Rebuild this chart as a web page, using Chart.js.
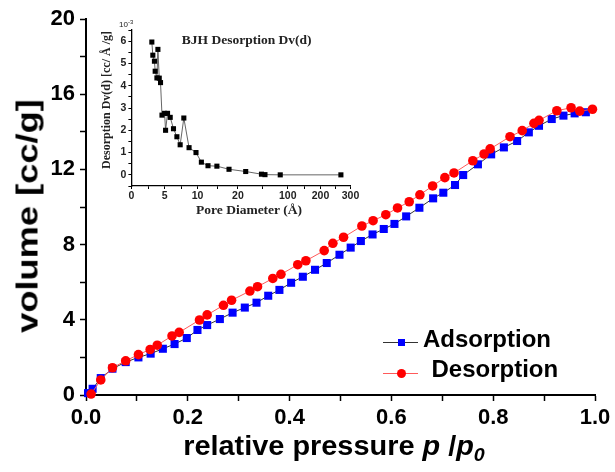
<!DOCTYPE html>
<html>
<head>
<meta charset="utf-8">
<script src="https://cdn.jsdelivr.net/npm/chart.js@4/dist/chart.umd.min.js"></script>
<style>
  html, body { margin: 0; padding: 0; background: #fff; }
  #wrap { position: relative; width: 615px; height: 472px; overflow: hidden; }
  canvas { position: absolute; }
  .txt { position: absolute; white-space: nowrap; line-height: 1; color: #000; }
  .sans { font-family: "Liberation Sans", Arial, sans-serif; font-weight: bold; }
  .serif { font-family: "Liberation Serif", "Times New Roman", serif; font-weight: bold; color: #222; }
</style>
</head>
<body>
<div id="wrap">
  <canvas id="main" width="615" height="472" style="left:0;top:0;width:615px;height:472px"></canvas>
  <canvas id="inset" width="275" height="215" style="left:90px;top:12px;width:275px;height:215px"></canvas>

  <div class="txt sans" style="left:28px;top:216px;font-size:29px;transform:translate(-50%,-50%) rotate(-90deg) scaleX(1.25);">volume [cc/g]</div>
  <div class="txt sans" style="left:333.5px;top:433px;font-size:27px;transform:translateX(-50%) scaleX(1.07);">relative pressure <i>p</i> /<i>p</i><span style="font-size:0.68em;position:relative;top:0.32em;font-style:italic">0</span></div>

  <div style="position:absolute;left:383px;top:342px;width:35px;height:1.2px;background:#333"></div>
  <div style="position:absolute;left:397.5px;top:339px;width:7px;height:7px;background:#0000ff"></div>
  <div class="txt sans" style="left:423px;top:326.5px;font-size:24px;">Adsorption</div>
  <div style="position:absolute;left:383px;top:372.7px;width:35px;height:1.2px;background:#ff5a5a"></div>
  <div style="position:absolute;left:396.5px;top:368.8px;width:9px;height:9px;border-radius:50%;background:#ff0000"></div>
  <div class="txt sans" style="left:431.5px;top:356.5px;font-size:24px;">Desorption</div>

  <div class="txt serif" style="left:246.7px;top:33.4px;font-size:13.5px;transform:translateX(-50%);">BJH Desorption Dv(d)</div>
  <div class="txt serif" style="left:106px;top:100px;font-size:12px;transform:translate(-50%,-50%) rotate(-90deg);">Desorption Dv(d) [cc/ Å /g]</div>
  <div class="txt serif" style="left:249px;top:203px;font-size:13.5px;transform:translateX(-50%);">Pore Diameter (Å)</div>
  <div class="txt" style="left:119px;top:21px;font-family:'Liberation Sans',Arial,sans-serif;font-size:8px;color:#222">10<span style="font-size:6px;position:relative;top:-3px">-3</span></div>
</div>

<script>
// ---------------- main isotherm data ----------------
const adsorptionP = [0.004, 0.013, 0.029, 0.052, 0.078, 0.103, 0.127, 0.151, 0.174, 0.198, 0.219, 0.238,
  0.263, 0.288, 0.312, 0.335, 0.358, 0.380, 0.403, 0.426, 0.450, 0.473, 0.498, 0.520, 0.540, 0.563,
  0.585, 0.606, 0.629, 0.655, 0.682, 0.702, 0.725, 0.741, 0.770, 0.796, 0.821, 0.847, 0.870, 0.890,
  0.915, 0.938, 0.960, 0.982];
const adsorptionV = [0.10, 0.33, 0.90, 1.40, 1.75, 2.00, 2.20, 2.46, 2.71, 3.03, 3.46, 3.72,
  4.04, 4.38, 4.65, 4.91, 5.28, 5.59, 5.97, 6.29, 6.66, 7.02, 7.46, 7.84, 8.19, 8.54,
  8.83, 9.10, 9.50, 9.96, 10.46, 10.76, 11.17, 11.70, 12.27, 12.80, 13.17, 13.51, 13.97, 14.32,
  14.68, 14.86, 14.98, 15.04];

const desorptionP = [0.010, 0.029, 0.052, 0.078, 0.103, 0.126, 0.140, 0.169, 0.183, 0.223, 0.238,
  0.270, 0.286, 0.322, 0.337, 0.367, 0.383, 0.416, 0.432, 0.468, 0.485, 0.506, 0.542, 0.564,
  0.589, 0.612, 0.635, 0.656, 0.681, 0.705, 0.723, 0.760, 0.782, 0.794, 0.833, 0.857, 0.880,
  0.890, 0.925, 0.953, 0.970, 0.995];
const desorptionV = [0.05, 0.80, 1.45, 1.82, 2.15, 2.42, 2.65, 3.14, 3.33, 3.99, 4.26,
  4.77, 5.04, 5.53, 5.76, 6.20, 6.42, 6.93, 7.14, 7.68, 8.07, 8.39, 8.99, 9.27,
  9.59, 9.95, 10.28, 10.65, 11.12, 11.56, 11.81, 12.46, 12.82, 13.09, 13.74, 14.06, 14.45,
  14.61, 15.12, 15.28, 15.10, 15.20];

// ---------------- inset BJH data (Dv(d) in 1e-3 cc/Å/g) ----------------
const poreDiameter = [3.06, 3.21, 3.45, 3.56, 3.82, 3.97, 4.17, 4.36, 4.58, 4.97, 5.12, 5.42, 5.83,
  6.33, 6.85, 7.35, 7.91, 8.71, 9.77, 10.96, 12.6, 14.8, 17.8, 32.5, 57.8, 63.4, 87.9, 268];
const poreDv = [5.96, 5.37, 5.10, 4.65, 4.35, 5.63, 4.34, 4.14, 2.68, 2.76, 2.00, 2.76, 2.58,
  2.07, 1.71, 1.35, 2.55, 1.22, 1.00, 0.57, 0.41, 0.39, 0.25, 0.15, 0.03, 0.01, 0.00, 0.00];

// tick labels
const mainXTickLabels = ['0.0', '0.2', '0.4', '0.6', '0.8', '1.0'];
const mainYTickLabels = ['0', '4', '8', '12', '16', '20'];
const poreTickValues = [0, 2.5, 5, 7.5, 10, 15, 20, 60, 100, 150, 200, 250, 300];
const poreTickLabels = ['0', '5', '10', '20', '100', '200', '300'];
const dvTickLabels = ['0', '1', '2', '3', '4', '5', '6'];

// inset x axis is a broken (piecewise) axis
const poreBreakValues = [0, 5, 10, 20, 100, 200, 300];
const poreBreakFractions = [0, 0.1524, 0.3017, 0.4861, 0.7138, 0.8631, 1];

class PiecewiseScale extends Chart.LinearScale {
  static id = 'piecewise';
  static defaults = Chart.LinearScale.defaults;
  _frac(v) {
    const bv = poreBreakValues, bf = poreBreakFractions;
    if (v <= bv[0]) return bf[0];
    for (let i = 1; i < bv.length; i++) {
      if (v <= bv[i]) return bf[i - 1] + (v - bv[i - 1]) / (bv[i] - bv[i - 1]) * (bf[i] - bf[i - 1]);
    }
    return bf[bf.length - 1];
  }
  getPixelForValue(value) {
    if (value === null || value === undefined || isNaN(value)) return NaN;
    return this.getPixelForDecimal(this._frac(value));
  }
  getValueForPixel(pixel) {
    const f = this.getDecimalForPixel(pixel);
    const bv = poreBreakValues, bf = poreBreakFractions;
    for (let i = 1; i < bf.length; i++) {
      if (f <= bf[i]) return bv[i - 1] + (f - bf[i - 1]) / (bf[i] - bf[i - 1]) * (bv[i] - bv[i - 1]);
    }
    return bv[bv.length - 1];
  }
  buildTicks() {
    return poreTickValues.map(v => ({ value: v }));
  }
}
Chart.register(PiecewiseScale);

const SANS = '"Liberation Sans", Arial, sans-serif';

function axisStyle(tickLen, tickW, borderW) {
  return {
    grid: { display: true, drawOnChartArea: false, drawTicks: true, tickLength: tickLen, tickWidth: tickW, tickColor: '#000' },
    border: { display: true, color: '#000', width: borderW }
  };
}

// ---------------- main chart ----------------
new Chart(document.getElementById('main'), {
  type: 'line',
  data: {
    datasets: [
      {
        label: 'Adsorption',
        data: adsorptionP.map((p, i) => ({ x: p, y: adsorptionV[i] })),
        borderColor: '#333333', borderWidth: 1,
        pointStyle: 'rect', pointRadius: 5.7, pointBorderWidth: 0,
        pointBackgroundColor: '#0000ff', pointBorderColor: '#0000ff',
        order: 2, clip: false
      },
      {
        label: 'Desorption',
        data: desorptionP.map((p, i) => ({ x: p, y: desorptionV[i] })),
        borderColor: '#ff5a5a', borderWidth: 1,
        pointStyle: 'circle', pointRadius: 4.8, pointBorderWidth: 0,
        pointBackgroundColor: '#ff0000', pointBorderColor: '#ff0000',
        order: 1, clip: false
      }
    ]
  },
  options: {
    responsive: false, animation: false,
    layout: { padding: { top: 19, right: 20, left: 0, bottom: 0 } },
    plugins: { legend: { display: false }, tooltip: { enabled: false } },
    scales: {
      x: Object.assign({
        type: 'linear', min: 0, max: 1,
        afterFit: s => { s.height = 77; },
        ticks: {
          stepSize: 0.1, autoSkip: false, maxRotation: 0, padding: 4, color: '#000',
          font: { family: SANS, size: 22, weight: 'bold' },
          callback: v => { const k = Math.round(v * 10); return k % 2 === 0 ? mainXTickLabels[k / 2] : ''; }
        }
      }, axisStyle(6, 1.5, 2)),
      y: Object.assign({
        type: 'linear', min: 0, max: 20,
        afterFit: s => { s.width = 86; },
        ticks: {
          stepSize: 2, autoSkip: false, padding: 5, color: '#000',
          font: { family: SANS, size: 22, weight: 'bold' },
          callback: v => { const k = Math.round(v); return k % 4 === 0 ? mainYTickLabels[k / 4] : ''; }
        }
      }, axisStyle(6, 1.5, 2))
    }
  }
});

// ---------------- inset chart ----------------
new Chart(document.getElementById('inset'), {
  type: 'line',
  data: {
    datasets: [{
      label: 'BJH Desorption Dv(d)',
      data: poreDiameter.map((d, i) => ({ x: d, y: poreDv[i] })),
      borderColor: '#555555', borderWidth: 0.9,
      pointStyle: 'rect', pointRadius: 3.6, pointBorderWidth: 0,
      pointBackgroundColor: '#000', pointBorderColor: '#000', clip: false
    }]
  },
  options: {
    responsive: false, animation: false,
    layout: { padding: { top: 18, right: 14.5, left: 0, bottom: 0 } },
    plugins: { legend: { display: false }, tooltip: { enabled: false } },
    scales: {
      x: Object.assign({
        type: 'piecewise', min: 0, max: 300,
        afterFit: s => { s.height = 41; },
        ticks: {
          autoSkip: false, maxRotation: 0, padding: 1, color: '#222',
          font: { family: SANS, size: 10.5, weight: 'bold' },
          callback: v => { const i = poreBreakValues.indexOf(v); return i >= 0 ? poreTickLabels[i] : ''; }
        }
      }, axisStyle(3, 1, 1.3)),
      y: Object.assign({
        type: 'linear', min: -0.5, max: 6.5,
        afterFit: s => { s.width = 41.4; },
        ticks: {
          stepSize: 0.5, autoSkip: false, padding: 2, color: '#222',
          font: { family: SANS, size: 10.5, weight: 'bold' },
          callback: v => { const k = Math.round(v * 2); return (k % 2 === 0 && k >= 0) ? dvTickLabels[k / 2] : ''; }
        }
      }, axisStyle(3, 1, 1.3))
    }
  }
});
</script>
</body>
</html>
